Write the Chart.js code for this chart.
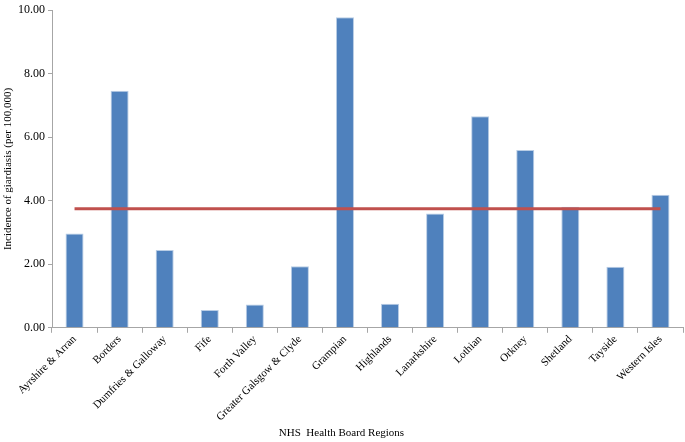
<!DOCTYPE html>
<html>
<head>
<meta charset="utf-8">
<script src="https://cdn.jsdelivr.net/npm/chart.js@4"></script>
<style>
  html, body { margin: 0; padding: 0; background: #fff; }
  #wrap { width: 685px; height: 442px; }
</style>
</head>
<body>
<div id="wrap"><canvas id="myChart"></canvas></div>
<script>
// Health board regions and incidence values
const regions = ['Ayrshire & Arran', 'Borders', 'Dumfries & Galloway', 'Fife', 'Forth Valley',
    'Greater Galsgow & Clyde', 'Grampian', 'Highlands', 'Lanarkshire', 'Lothian',
    'Orkney', 'Shetland', 'Tayside', 'Western Isles'];
const incidence = [2.97, 7.46, 2.45, 0.56, 0.73, 1.94, 9.78, 0.76, 3.60, 6.66, 5.60, 3.81, 1.92, 4.19];
const averageLevel = regions.map(() => 3.75);
const yTicks = [0, 2, 4, 6, 8, 10];

const serif = "'Liberation Serif', 'Times New Roman', serif";

const ctx = document.getElementById('myChart').getContext('2d');
new Chart(ctx, {
    data: {
        labels: regions,
        datasets: [
            {
                type: 'line',
                label: 'Scotland average',
                data: averageLevel,
                borderColor: '#c0504d',
                borderWidth: 3,
                pointRadius: 0,
                fill: false,
                order: 0
            },
            {
                type: 'bar',
                label: 'Incidence',
                data: incidence,
                backgroundColor: '#4f81bd',
                borderColor: '#b9cde5',
                borderWidth: 1,
                barPercentage: 0.8,
                categoryPercentage: 0.5,
                order: 1
            }
        ]
    },
    options: {
        responsive: true,
        maintainAspectRatio: false,
        animation: false,
        layout: { padding: { top: 5, right: 2, left: 0, bottom: 2 } },
        plugins: {
            legend: { display: false },
            tooltip: { enabled: false },
            // x axis title, centred on the whole canvas like the original
            title: {
                display: true,
                position: 'bottom',
                text: 'NHS  Health Board Regions',
                color: '#000',
                font: { family: serif, size: 11, weight: 'normal' },
                padding: { top: 0, bottom: 0 }
            }
        },
        scales: {
            x: {
                grid: { drawOnChartArea: false, tickLength: 5, color: '#a6a6a6' },
                border: { color: '#a6a6a6' },
                ticks: {
                    color: '#000',
                    font: { family: serif, size: 11 },
                    minRotation: 45,
                    maxRotation: 45,
                    autoSkip: false,
                    padding: 0
                },
                afterFit: scale => { scale.height = 99; }
            },
            y: {
                min: 0,
                max: 10,
                afterBuildTicks: scale => { scale.ticks = yTicks.map(v => ({ value: v })); },
                grid: { drawOnChartArea: false, tickLength: 4, color: '#a6a6a6' },
                border: { color: '#a6a6a6' },
                ticks: {
                    color: '#000',
                    font: { family: serif, size: 12 },
                    padding: 3,
                    callback: v => v.toFixed(2)
                },
                title: {
                    display: true,
                    text: 'Incidence of giardiasis (per 100,000)',
                    color: '#000',
                    font: { family: serif, size: 11 },
                    padding: { top: 2, bottom: 2 }
                },
                afterFit: scale => { scale.width = 52; }
            }
        }
    }
});
</script>
</body>
</html>
